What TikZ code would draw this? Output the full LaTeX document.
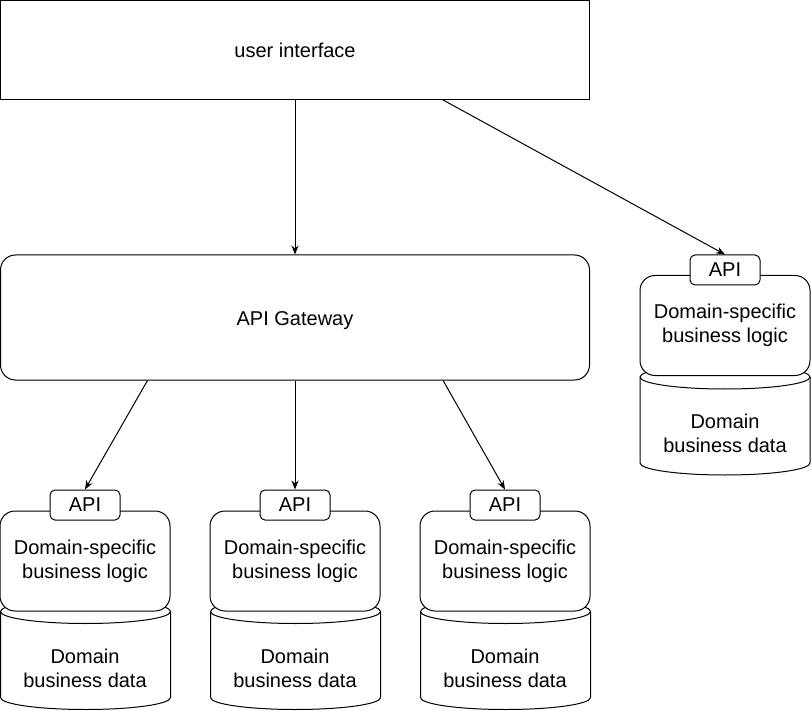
\documentclass[tikz,border=0pt]{standalone}
\usepackage{fontspec}
\setmainfont{Liberation Sans}
\usetikzlibrary{arrows.meta,calc}
\newcommand\mycyl[2]{%
  \filldraw[cylstyle] (#1,#2+12) -- (#1,#2+98)
    arc[start angle=180,end angle=360,x radius=85pt,y radius=12pt]
    -- (#1+170,#2+12)
    arc[start angle=0,end angle=180,x radius=85pt,y radius=12pt] -- cycle;
  \draw[cylstyle] (#1,#2+12) arc[start angle=180,end angle=360,x radius=85pt,y radius=12pt];
}
\begin{document}
\begin{tikzpicture}[x=1pt,y=-1pt,
  box/.style={draw,line width=1pt,fill=white,inner sep=0pt,align=center,font=\fontsize{20}{24}\selectfont},
  big/.style={box,minimum width=589pt,minimum height=99pt},
  gw/.style={big,rounded corners=15pt,minimum height=125pt,text height=20pt,text depth=4.2pt},
  logic/.style={box,rounded corners=15pt,minimum width=170pt,minimum height=100pt},
  apibox/.style={box,rounded corners=5pt,minimum width=70pt,minimum height=30pt},
  datatext/.style={align=center,font=\fontsize{20}{24}\selectfont,inner sep=0pt},
  cylstyle/.style={line width=1pt,fill=white},
  conn/.style={line width=1pt,-{Stealth[length=9pt,width=7pt]}}]
\useasboundingbox (0,0) rectangle (811,711);
\node[big] (ui) at (295,50) {user interface};
\node[gw] (gw) at (295,317.5) {API Gateway};
% bottom services
\foreach \i/\x in {1/0,2/210,3/420}{
  \mycyl{\x+0.5}{599.5}
  \node[datatext] (data\i) at (\x+85,668) {Domain\\business data};
  \node[logic] (logic\i) at (\x+85,561) {Domain-specific\\business logic};
  \node[apibox] (api\i) at (\x+85,505) {API};
}
% right service
\mycyl{640}{365}
\node[datatext] (data4) at (725,433) {Domain\\business data};
\node[logic] (logic4) at (725,325.5) {Domain-specific\\business logic};
\node[apibox] (api4) at (725,270) {API};
% connectors
\draw[conn] (ui.south) -- (gw.north);
\draw[conn] ($(ui.south west)!0.751!(ui.south east)$) -- (api4.north);
\draw[conn] ($(gw.south west)!0.25!(gw.south east)$) -- (api1.north);
\draw[conn] (gw.south) -- (api2.north);
\draw[conn] ($(gw.south west)!0.751!(gw.south east)$) -- (api3.north);
\end{tikzpicture}
\end{document}
